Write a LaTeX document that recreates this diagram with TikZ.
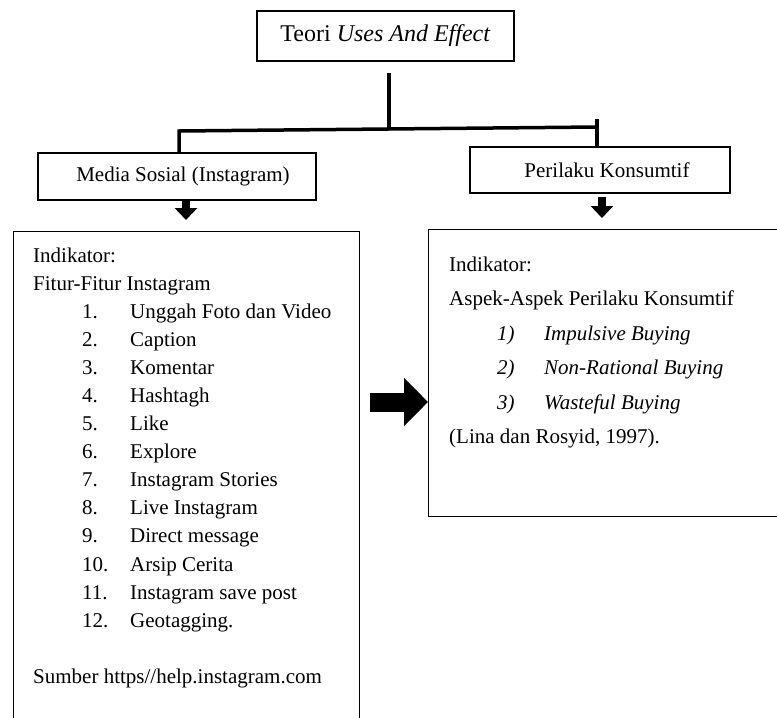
\documentclass[tikz,border=0pt]{standalone}
\usepackage{fontspec}
\setmainfont{Liberation Serif}
\usetikzlibrary{arrows.meta,calc}

\begin{document}
\begin{tikzpicture}[x=1pt,y=-1pt,
  every node/.style={font=\fontsize{21}{25}\selectfont,inner sep=0pt},
  box/.style={draw,line width=1.2pt,minimum height=47pt},
  bigbox/.style={draw,line width=1.2pt,anchor=north west},
  item/.style={anchor=base west},
  tree/.style={line width=3.5pt},
  downarrow/.style={line width=8pt,-{Triangle[width=22pt,length=12pt]}},
  bigarrow/.style={line width=19pt,-{Triangle[width=47pt,length=24pt]}}]
  \useasboundingbox (0,0) rectangle (777,718);
  \clip (0,0) rectangle (777,718);

  \node[box,font=\fontsize{24}{28}\selectfont,minimum width=257pt,minimum height=50pt] (teori) at (385.5,36) {Teori \textit{Uses And Effect}};
  \node[box,minimum width=278pt] (media) at (177,176.5) {\hspace*{12pt}Media Sosial (Instagram)};
  \node[box,minimum width=260pt,minimum height=46pt] (perilaku) at (600,170) {\hspace*{14pt}Perilaku Konsumtif};
  \node[bigbox,minimum width=346pt,minimum height=520pt] (lbig) at (13,231) {};
  \node[bigbox,minimum width=380pt,minimum height=287pt] (rbig) at (428,229) {};

  \node[item] (lind) at (33,262) {Indikator:};
  \node[item] (lfitur) at (33,290) {Fitur-Fitur Instagram};
  \foreach \t [count=\i] in {Unggah Foto dan Video,Caption,Komentar,Hashtagh,Like,Explore,Instagram Stories,Live Instagram,Direct message,Arsip Cerita,Instagram save post,Geotagging.}
    \node[item] (fitur\i) at (82,{290+28.1*\i}) {\makebox[48pt][l]{\i.}\t};
  \node[item] (lsumber) at (33,683) {Sumber https//help.instagram.com};

  \node[item] (rind) at (449,271) {Indikator:};
  \node[item] (raspek) at (449,305.5) {Aspek-Aspek Perilaku Konsumtif};
  \foreach \t [count=\i] in {Impulsive Buying,Non-Rational Buying,Wasteful Buying}
    \node[item] (aspek\i) at (497,{305.5+34.5*\i}) {\makebox[47pt][l]{\itshape\i)}\textit{\t}};
  \node[item] (rsumber) at (449,443.5) {(Lina dan Rosyid, 1997).};

  \coordinate (fork) at (389,129);
  \coordinate (lend) at (179,131);
  \coordinate (rend) at (597,127);
  \coordinate (larrow) at (186,0);
  \coordinate (rarrow) at (602,0);
  \coordinate (midarrow) at (0,402);

  \draw[tree] ($(teori.south -| fork)+(0,11)$) -- (fork);
  \draw[tree] (lend |- media.north) -- (lend) -- (rend);
  \draw[tree] ($(rend)+(0,-8)$) -- (rend |- perilaku.north);
  \draw[downarrow] (media.south -| larrow) -- ($(lbig.north -| larrow)+(0,-11)$);
  \draw[downarrow] ($(perilaku.south -| rarrow)+(0,3)$) -- ($(rbig.north -| rarrow)+(0,-11)$);
  \draw[bigarrow] ($(lbig.east |- midarrow)+(10,0)$) -- (rbig.west |- midarrow);
\end{tikzpicture}
\end{document}
